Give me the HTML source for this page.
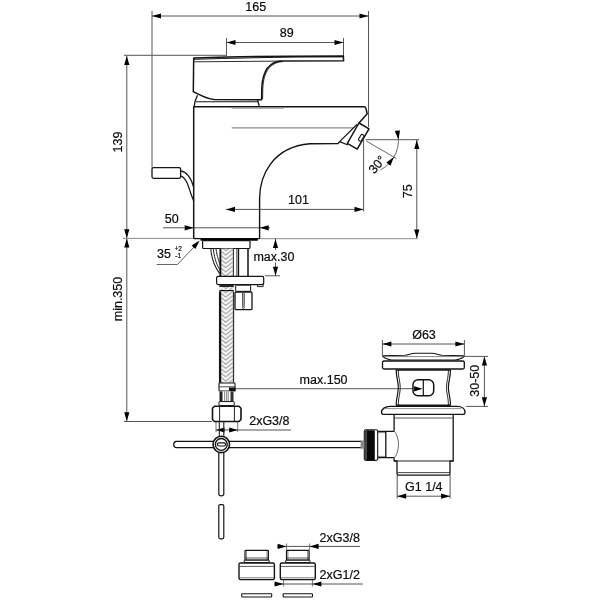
<!DOCTYPE html>
<html><head><meta charset="utf-8"><title>Technical drawing</title>
<style>
html,body{margin:0;padding:0;background:#fff;}
body{width:600px;height:600px;overflow:hidden;}
svg{display:block;will-change:transform;}
text{font-family:"Liberation Sans",Arial,sans-serif;fill:#0c0c0c;stroke:#0c0c0c;stroke-width:0.2px;}
</style></head><body>
<svg width="600" height="600" viewBox="0 0 600 600">
<rect width="600" height="600" fill="#fff"/>
<line x1="152" y1="11" x2="152" y2="167.5" stroke="#555555" stroke-width="1.0" />
<line x1="368.5" y1="11" x2="368.5" y2="127" stroke="#555555" stroke-width="1.0" />
<line x1="152" y1="16" x2="368.5" y2="16" stroke="#555555" stroke-width="1.0" />
<polygon points="152.00,16.00 161.00,13.40 161.00,18.60" fill="#000"/>
<polygon points="368.50,16.00 359.50,18.60 359.50,13.40" fill="#000"/>
<text x="255.8" y="10.5" font-size="12.5" text-anchor="middle" >165</text>
<line x1="226.5" y1="38" x2="226.5" y2="55.5" stroke="#555555" stroke-width="1.0" />
<line x1="343.5" y1="38" x2="343.5" y2="57" stroke="#555555" stroke-width="1.0" />
<line x1="226.5" y1="42.5" x2="343.5" y2="42.5" stroke="#555555" stroke-width="1.0" />
<polygon points="226.50,42.50 235.50,39.90 235.50,45.10" fill="#000"/>
<polygon points="343.50,42.50 334.50,45.10 334.50,39.90" fill="#000"/>
<text x="286.7" y="37.2" font-size="12.5" text-anchor="middle" >89</text>
<line x1="126.8" y1="56" x2="126.8" y2="421.3" stroke="#555555" stroke-width="1.0" />
<line x1="124" y1="55.3" x2="227" y2="55.3" stroke="#555555" stroke-width="1.0" />
<polygon points="126.80,56.00 129.40,65.00 124.20,65.00" fill="#000"/>
<polygon points="126.80,238.30 124.20,229.30 129.40,229.30" fill="#000"/>
<text x="121.7" y="142" font-size="12.5" text-anchor="middle" transform="rotate(-90 121.7 142)" >139</text>
<polygon points="126.80,238.60 129.40,247.60 124.20,247.60" fill="#000"/>
<polygon points="126.80,421.30 124.20,412.30 129.40,412.30" fill="#000"/>
<line x1="123" y1="238.4" x2="198" y2="238.4" stroke="#8a8a8a" stroke-width="1.0" />
<line x1="124" y1="421.5" x2="212" y2="421.5" stroke="#555555" stroke-width="1.0" />
<text x="121.7" y="299" font-size="12.5" text-anchor="middle" transform="rotate(-90 121.7 299)" >min.350</text>
<line x1="163" y1="227.8" x2="270" y2="227.8" stroke="#555555" stroke-width="1.0" />
<polygon points="193.70,227.80 184.70,230.40 184.70,225.20" fill="#000"/>
<polygon points="259.70,227.80 268.70,225.20 268.70,230.40" fill="#000"/>
<text x="171.7" y="222.6" font-size="12.5" text-anchor="middle" >50</text>
<line x1="226" y1="209.4" x2="363.5" y2="209.4" stroke="#555555" stroke-width="1.0" />
<line x1="363.6" y1="140" x2="363.6" y2="211.5" stroke="#555555" stroke-width="1.0" />
<polygon points="226.00,209.40 235.00,206.80 235.00,212.00" fill="#000"/>
<polygon points="363.50,209.40 354.50,212.00 354.50,206.80" fill="#000"/>
<text x="298.5" y="204.2" font-size="12.5" text-anchor="middle" >101</text>
<line x1="416.8" y1="140" x2="416.8" y2="238.5" stroke="#555555" stroke-width="1.0" />
<line x1="365.5" y1="139.7" x2="419" y2="139.7" stroke="#555555" stroke-width="1.0" />
<line x1="260" y1="238.7" x2="417.5" y2="238.7" stroke="#8a8a8a" stroke-width="1.0" />
<polygon points="416.80,140.00 419.40,149.00 414.20,149.00" fill="#000"/>
<polygon points="416.80,238.50 414.20,229.50 419.40,229.50" fill="#000"/>
<text x="412" y="191.2" font-size="12.5" text-anchor="middle" transform="rotate(-90 412 191.2)" >75</text>
<path d="M397.01,130.06 A34.0,34.0 0 0 1 380.46,170.02" stroke="#6a6a6a" stroke-width="1" fill="none"/>
<line x1="366.4" y1="141.1" x2="396.5" y2="158.6" stroke="#6a6a6a" stroke-width="1.0" />
<polygon points="398.50,139.70 394.82,131.08 399.98,130.45" fill="#000"/>
<polygon points="393.94,157.00 390.45,165.69 386.36,162.49" fill="#000"/>
<text x="377" y="164.6" font-size="12.5" text-anchor="middle" transform="rotate(-50 377 164.6)" dy="4.3">30°</text>
<line x1="275.5" y1="238.7" x2="275.5" y2="250" stroke="#555555" stroke-width="1.0" />
<line x1="275.5" y1="262.5" x2="275.5" y2="275.8" stroke="#555555" stroke-width="1.0" />
<line x1="265" y1="275.8" x2="280" y2="275.8" stroke="#555555" stroke-width="1.0" />
<polygon points="275.50,238.90 278.10,247.90 272.90,247.90" fill="#000"/>
<polygon points="275.50,275.80 272.90,266.80 278.10,266.80" fill="#000"/>
<text x="253.4" y="260.5" font-size="12.5" text-anchor="start" >max.30</text>
<text x="157" y="258.4" font-size="12.5" text-anchor="start" >35</text>
<text x="174.5" y="251.4" font-size="6.5" text-anchor="start" stroke="none" fill="#333">+2</text>
<text x="175.3" y="258.4" font-size="6.5" text-anchor="start" stroke="none" fill="#333">-1</text>
<path d="M156.7,264.5 L177.5,264.5 L197.5,243.2" stroke="#555" stroke-width="0.9" fill="none" />
<polygon points="199.60,240.60 195.36,248.96 191.56,245.41" fill="#000"/>
<line x1="235.5" y1="388.6" x2="422" y2="388.6" stroke="#777" stroke-width="1.1" />
<polygon points="422.60,388.80 414.10,391.40 414.10,386.20" fill="#000"/>
<text x="299.6" y="383.8" font-size="12.5" text-anchor="start" >max.150</text>
<line x1="216" y1="422" x2="216" y2="432" stroke="#555555" stroke-width="0.8" />
<line x1="237.7" y1="422" x2="237.7" y2="432" stroke="#555555" stroke-width="0.8" />
<line x1="216" y1="430" x2="291" y2="430" stroke="#555555" stroke-width="1.0" />
<polygon points="216.00,430.00 224.50,427.40 224.50,432.60" fill="#000"/>
<polygon points="237.70,430.00 229.20,432.60 229.20,427.40" fill="#000"/>
<text x="249.2" y="425.2" font-size="12.5" text-anchor="start" >2xG3/8</text>
<line x1="382.4" y1="340" x2="382.4" y2="355" stroke="#555555" stroke-width="1.0" />
<line x1="464.4" y1="340" x2="464.4" y2="355" stroke="#555555" stroke-width="1.0" />
<line x1="382.4" y1="344" x2="464.4" y2="344" stroke="#555555" stroke-width="1.0" />
<polygon points="382.40,344.00 391.40,341.40 391.40,346.60" fill="#000"/>
<polygon points="464.40,344.00 455.40,346.60 455.40,341.40" fill="#000"/>
<text x="424" y="338.5" font-size="12.5" text-anchor="middle" >Ø63</text>
<line x1="484.4" y1="356.4" x2="484.4" y2="406" stroke="#555555" stroke-width="1.0" />
<line x1="464" y1="356.4" x2="488" y2="356.4" stroke="#555555" stroke-width="1.0" />
<line x1="466" y1="406.4" x2="488" y2="406.4" stroke="#555555" stroke-width="1.0" />
<polygon points="484.40,356.40 487.00,365.40 481.80,365.40" fill="#000"/>
<polygon points="484.40,406.20 481.80,397.20 487.00,397.20" fill="#000"/>
<text x="479.4" y="380.7" font-size="12.5" text-anchor="middle" transform="rotate(-90 479.4 380.7)" >30-50</text>
<line x1="397.2" y1="475" x2="397.2" y2="498.5" stroke="#555555" stroke-width="1.0" />
<line x1="450.1" y1="475" x2="450.1" y2="498.5" stroke="#555555" stroke-width="1.0" />
<line x1="397.2" y1="496.2" x2="450.1" y2="496.2" stroke="#555555" stroke-width="1.0" />
<polygon points="397.20,496.20 406.20,493.60 406.20,498.80" fill="#000"/>
<polygon points="450.10,496.20 441.10,498.80 441.10,493.60" fill="#000"/>
<text x="423.8" y="491" font-size="12.5" text-anchor="middle" >G1 1/4</text>
<line x1="286.6" y1="543.5" x2="286.6" y2="550" stroke="#555555" stroke-width="0.8" />
<line x1="309.6" y1="543.5" x2="309.6" y2="550" stroke="#555555" stroke-width="0.8" />
<line x1="277" y1="546.4" x2="360" y2="546.4" stroke="#555555" stroke-width="1.0" />
<polygon points="286.60,546.40 277.60,549.00 277.60,543.80" fill="#000"/>
<polygon points="309.60,546.40 318.60,543.80 318.60,549.00" fill="#000"/>
<text x="319.6" y="542" font-size="12.5" text-anchor="start" >2xG3/8</text>
<line x1="283.6" y1="580" x2="283.6" y2="586.5" stroke="#555555" stroke-width="0.8" />
<line x1="312.4" y1="580" x2="312.4" y2="586.5" stroke="#555555" stroke-width="0.8" />
<line x1="274" y1="584" x2="363" y2="584" stroke="#555555" stroke-width="1.0" />
<polygon points="283.60,584.00 274.60,586.60 274.60,581.40" fill="#000"/>
<polygon points="312.40,584.00 321.40,581.40 321.40,586.60" fill="#000"/>
<text x="319.6" y="579.2" font-size="12.5" text-anchor="start" >2xG1/2</text>
<path d="M193.7,58 Q250,56.3 290,56.2 L343.4,56.1 L343.6,60.7 L282,61.1 C268.5,61.6 262.6,72 261.8,88 L261.6,99.7 L214,99.5 C205,98.6 199,94.2 193.3,91.7 Z" stroke="#141414" stroke-width="1.5" fill="none" stroke-linejoin="round"/>
<path d="M193.9,59.3 Q250,57.6 300,57 L343.4,56.9" stroke="#141414" stroke-width="1.0" fill="none" />
<path d="M194.3,61.8 L282,61.1" stroke="#141414" stroke-width="0.9" fill="none" />
<path d="M283,61.6 C270,62.2 263.6,72 262.8,88 L262.6,99" stroke="#141414" stroke-width="0.9" fill="none" />
<path d="M197.5,95.3 C195.6,99 194.6,102 194.2,106.2" stroke="#141414" stroke-width="1.3" fill="none" />
<path d="M196,101.7 L257.7,101.7" stroke="#141414" stroke-width="1.1" fill="none" />
<path d="M257.6,100 L259.2,106.2" stroke="#141414" stroke-width="1.3" fill="none" />
<path d="M193.7,238.6 L193.7,106.7 L364.2,106.8 C365.2,106.9 365.6,107.4 365.9,108.4 L367.2,113.8 L359,123" stroke="#141414" stroke-width="1.5" fill="none" stroke-linejoin="round"/>
<path d="M259.6,238.6 L259.6,198 C259.8,176 272,147 310,143.8 L338,143.6 L339.6,141.6" stroke="#141414" stroke-width="1.4" fill="none" />
<path d="M231.7,108.3 L284,108.3" stroke="#999" stroke-width="0.9" fill="none" />
<path d="M231.7,127.9 L353,127.9" stroke="#8a8a8a" stroke-width="1.2" fill="none" />
<path d="M193.7,238.6 L259.7,238.6" stroke="#141414" stroke-width="1.4" fill="none" />
<path d="M200.5,239.6 L257.8,239.6" stroke="#000" stroke-width="2.4" fill="none" />
<path d="M359,123 L369,128.8 L357.2,149.1 L347.3,143.4 Z" stroke="#141414" stroke-width="1.5" fill="none" stroke-linejoin="round"/>
<path d="M357.2,124.2 L339.6,141.6 L348,145" stroke="#141414" stroke-width="1.2" fill="none" stroke-linejoin="round"/>
<rect x="-3.5" y="-1.6" width="7" height="3.2" rx="1.1" transform="translate(361.2,137.8) rotate(-60)" stroke="#141414" stroke-width="1.1" fill="#fff"/>
<rect x="152" y="167.6" width="28.60" height="10.70" rx="1.5" stroke="#141414" stroke-width="1.3" fill="none" />
<path d="M180.6,170.8 C187,171.8 191,177.5 193.6,187" stroke="#141414" stroke-width="1.2" fill="none" />
<path d="M180.6,175.8 C185,176.8 187,181.5 189,188 S192,197 193.7,201" stroke="#141414" stroke-width="1.2" fill="none" />
<defs><pattern id="braid" x="220.3" y="248" width="13.2" height="4.2" patternUnits="userSpaceOnUse">
<rect width="13.2" height="4.2" fill="#f6f6f6"/>
<path d="M1.2,-0.6 L5.4,2.8 L12.6,-2.8 M1.2,3.6 L5.4,7 L12.6,1.4 M1.2,-4.8 L5.4,-1.4 L12.6,-7 M5.4,11.2 L12.6,5.6" stroke="#8c8c8c" stroke-width="0.9" fill="none"/>
</pattern></defs>
<rect x="202.6" y="240.6" width="47.40" height="7.90" rx="1" stroke="#141414" stroke-width="1.2" fill="#fff" />
<path d="M210.8,249 C212,262 216,268 219.6,273.5" stroke="#222" stroke-width="1.1" fill="none" />
<path d="M213.3,249 C214.5,260 217.5,266 220,270" stroke="#222" stroke-width="1.0" fill="none" />
<path d="M216,249 C217,256 219,262 220.3,265" stroke="#222" stroke-width="1.0" fill="none" />
<rect x="220.3" y="248.6" width="13.2" height="28" fill="url(#braid)"/>
<line x1="220.4" y1="248.6" x2="220.4" y2="276.5" stroke="#111" stroke-width="1.9" />
<line x1="233.4" y1="248.6" x2="233.4" y2="276.5" stroke="#333" stroke-width="1.1" />
<line x1="236.6" y1="248.6" x2="236.6" y2="276.5" stroke="#555" stroke-width="0.8" />
<line x1="238.4" y1="248.6" x2="238.4" y2="276.5" stroke="#111" stroke-width="1.5" />
<line x1="248" y1="248.6" x2="248" y2="276.5" stroke="#111" stroke-width="1.5" />
<rect x="216.6" y="276.4" width="47.10" height="8.20" rx="1.5" stroke="#141414" stroke-width="1.2" fill="#fff" />
<path d="M257.5,284.6 L257.5,286.6 L263.2,286.6 L263.2,283" stroke="#141414" stroke-width="0.9" fill="none" />
<rect x="219.4" y="285" width="14.4" height="6.4" fill="url(#braid)"/>
<line x1="219.4" y1="286" x2="233.8" y2="286" stroke="#111" stroke-width="1.8" />
<line x1="219.4" y1="290.7" x2="233.8" y2="290.7" stroke="#111" stroke-width="1.4" />
<rect x="235.7" y="285.2" width="14.90" height="6.10" rx="0.5" stroke="#141414" stroke-width="1.0" fill="#fff" />
<rect x="235" y="292" width="17.00" height="17.60" rx="1.2" stroke="#141414" stroke-width="1.3" fill="#fff" />
<line x1="242.7" y1="293" x2="242.7" y2="306.5" stroke="#222" stroke-width="0.9" />
<line x1="244.2" y1="293" x2="244.2" y2="306.5" stroke="#222" stroke-width="0.9" />
<circle cx="243.4" cy="307.6" r="1" fill="#fff" stroke="#222" stroke-width="0.8"/>
<rect x="220.3" y="291.4" width="13.2" height="91.4" fill="url(#braid)"/>
<line x1="220.1" y1="291.4" x2="220.1" y2="382.8" stroke="#111" stroke-width="2.3" />
<line x1="233.5" y1="291.4" x2="233.5" y2="382.8" stroke="#333" stroke-width="1.3" />
<rect x="219" y="383" width="16.00" height="8.00" rx="0.5" stroke="#141414" stroke-width="1.1" fill="#fff" />
<line x1="219" y1="386.8" x2="235" y2="386.8" stroke="#333" stroke-width="0.9" />
<rect x="229" y="387.5" width="6.5" height="3.6" fill="#111"/>
<rect x="219.5" y="391.4" width="14" height="10.2" fill="#fff"/>
<rect x="219.5" y="391.4" width="3" height="10.2" fill="#222"/>
<rect x="230.5" y="391.4" width="3" height="10.2" fill="#333"/>
<line x1="224.6" y1="391.4" x2="224.6" y2="401.6" stroke="#666" stroke-width="0.8" />
<line x1="226.6" y1="391.4" x2="226.6" y2="401.6" stroke="#666" stroke-width="0.8" />
<line x1="228.2" y1="391.4" x2="228.2" y2="401.6" stroke="#666" stroke-width="0.8" />
<rect x="219" y="401.6" width="15.20" height="4.00" rx="0.5" stroke="#141414" stroke-width="1.0" fill="#fff" />
<path d="M214.5,406.2 L239,406.2 L241,408.2 L241,419.5 L239,421.5 L214.5,421.5 L212.5,419.5 L212.5,408.2 Z" stroke="#141414" stroke-width="1.6" fill="#fff" stroke-linejoin="round"/>
<line x1="219.6" y1="406.5" x2="219.6" y2="421.3" stroke="#222" stroke-width="1.0" />
<line x1="234.4" y1="406.5" x2="234.4" y2="421.3" stroke="#222" stroke-width="1.0" />
<line x1="219.3" y1="421.6" x2="219.3" y2="437" stroke="#222" stroke-width="1.1" />
<line x1="223.8" y1="421.6" x2="223.8" y2="437" stroke="#222" stroke-width="1.1" />
<path d="M362.5,441.4 L176.5,441.4 C172.8,441.4 172.8,447.7 176.5,447.7 L362.5,447.7" stroke="#141414" stroke-width="1.2" fill="#fff" />
<path d="M218.8,450 L218.8,494 C218.8,496.4 223.8,496.4 223.8,494 L223.8,450" stroke="#141414" stroke-width="1.2" fill="#fff" />
<rect x="218.8" y="504.6" width="5.00" height="34.20" rx="1.5" stroke="#141414" stroke-width="1.2" fill="#fff" />
<circle cx="221.3" cy="444.4" r="8.2" fill="#fff" stroke="#111" stroke-width="1.6"/>
<circle cx="221.3" cy="444.4" r="5.9" fill="#fff" stroke="#111" stroke-width="1.3"/>
<rect x="217.4" y="442.9" width="8.20" height="3.10" rx="1.5" stroke="#141414" stroke-width="1.2" fill="#fff" />
<path d="M382.5,355.8 L405,355.3 C409,355 411,353.3 415,353.3 L431.7,353.3 C436,353.3 438,355 442,355.3 L464.4,355.8 C464.4,357.5 458,360 455,360 L391.7,360 C389,360 382.5,357.5 382.5,355.8 Z" stroke="#141414" stroke-width="1.1" fill="#fff" stroke-linejoin="round"/>
<path d="M382.5,356.6 L464.4,356.6" stroke="#555" stroke-width="0.7" fill="none" />
<rect x="382.5" y="361" width="81.80" height="8.00" rx="1.5" stroke="#141414" stroke-width="1.3" fill="#fff" />
<path d="M396,370 L450.6,370" stroke="#141414" stroke-width="1.6" fill="none" />
<path d="M396,405.3 L450.6,405.3" stroke="#141414" stroke-width="1.6" fill="none" />
<path d="M396.2,370 C396.2,378 398.3,381 398.3,387.5 C398.3,394 396.2,397 396.2,405.3" stroke="#141414" stroke-width="1.2" fill="none" />
<path d="M398.3,370 C398.3,378 400.2,381 400.2,387.5 C400.2,394 398.3,397 398.3,405.3" stroke="#222" stroke-width="1.0" fill="none" />
<path d="M450.5,370 C450.5,378 448.4,381 448.4,387.5 C448.4,394 450.5,397 450.5,405.3" stroke="#141414" stroke-width="1.2" fill="none" />
<path d="M448.4,370 C448.4,378 446.5,381 446.5,387.5 C446.5,394 448.4,397 448.4,405.3" stroke="#222" stroke-width="1.0" fill="none" />
<rect x="413" y="379.8" width="20.70" height="16.00" rx="5" stroke="#141414" stroke-width="1.5" fill="#fff" />
<line x1="423.3" y1="379.8" x2="423.3" y2="395.8" stroke="#111" stroke-width="1.2" />
<polygon points="422.60,388.80 414.10,391.40 414.10,386.20" fill="#000"/>
<path d="M390,406.4 L457,406.4 C462,406.4 465,409 465,412.3 C465,413.6 464.5,414.3 463.3,414.3 L383.2,414.3 C382,414.3 381.5,413.6 381.5,412.3 C381.5,409 385,406.4 390,406.4 Z" stroke="#141414" stroke-width="1.3" fill="#fff" />
<path d="M385,408.6 L461.5,408.6" stroke="#666" stroke-width="0.7" fill="none" />
<path d="M394.1,414.3 L394.1,430.8 M394.1,458.2 L394.1,461 L397,461 L397,473.5 C397,474.6 397.6,475.2 398.6,475.2 L448.4,475.2 C449.4,475.2 450,474.6 450,473.5 L450,461 L453.2,461 L453.2,414.3" stroke="#141414" stroke-width="1.3" fill="none" stroke-linejoin="round"/>
<path d="M394.6,418 L452.8,418" stroke="#444" stroke-width="0.9" fill="none" />
<path d="M397,472.6 L450,472.6" stroke="#333" stroke-width="0.9" fill="none" />
<path d="M394.1,461 L453.2,461" stroke="#222" stroke-width="1.0" fill="none" />
<path d="M394.1,431.3 L377.8,431.3 M394.1,457.7 L377.8,457.7" stroke="#141414" stroke-width="1.2" fill="none" />
<path d="M378,432.6 L385.8,432.6 M378,456.4 L385.8,456.4" stroke="#555" stroke-width="0.7" fill="none" />
<line x1="385.8" y1="431.3" x2="385.8" y2="457.7" stroke="#111" stroke-width="1.3" />
<path d="M394.1,430.8 C400,438 400,451 394.1,458.2" stroke="#444" stroke-width="0.8" fill="none" />
<rect x="364.3" y="429.7" width="13.40" height="30.70" rx="1.6" stroke="#141414" stroke-width="1.1" fill="#fff" />
<rect x="365.2" y="430.2" width="9.6" height="29.7" rx="1" fill="#0a0a0a"/>
<line x1="366.4" y1="431" x2="366.4" y2="459.6" stroke="#888" stroke-width="0.6" />
<rect x="360.6" y="440.6" width="3.8" height="8" fill="#888"/>
<rect x="245.0" y="550.4" width="23.40" height="9.80" rx="0.8" stroke="#141414" stroke-width="1.2" fill="#fff" />
<line x1="246.4" y1="551" x2="246.4" y2="560" stroke="#444" stroke-width="0.7" />
<line x1="267.0" y1="551" x2="267.0" y2="560" stroke="#444" stroke-width="0.7" />
<line x1="245.0" y1="558" x2="268.4" y2="558" stroke="#333" stroke-width="0.8" />
<rect x="244.2" y="560.2" width="25.00" height="2.40" rx="0.3" stroke="#141414" stroke-width="1.0" fill="#fff" />
<rect x="239.0" y="563" width="35.40" height="16.60" rx="1.6" stroke="#141414" stroke-width="1.4" fill="#fff" />
<line x1="239.5" y1="566.4" x2="273.9" y2="566.4" stroke="#333" stroke-width="0.8" />
<line x1="239.8" y1="577.8" x2="273.59999999999997" y2="577.8" stroke="#444" stroke-width="0.7" />
<rect x="241.7" y="593.7" width="30.00" height="3.30" rx="0.8" stroke="#141414" stroke-width="1.1" fill="#fff" />
<rect x="286.5" y="550.4" width="22.60" height="9.80" rx="0.8" stroke="#141414" stroke-width="1.2" fill="#fff" />
<line x1="287.9" y1="551" x2="287.9" y2="560" stroke="#444" stroke-width="0.7" />
<line x1="307.70000000000005" y1="551" x2="307.70000000000005" y2="560" stroke="#444" stroke-width="0.7" />
<line x1="286.5" y1="558" x2="309.1" y2="558" stroke="#333" stroke-width="0.8" />
<rect x="285.7" y="560.2" width="24.20" height="2.40" rx="0.3" stroke="#141414" stroke-width="1.0" fill="#fff" />
<rect x="280.3" y="563" width="35.00" height="16.60" rx="1.6" stroke="#141414" stroke-width="1.4" fill="#fff" />
<line x1="280.8" y1="566.4" x2="314.8" y2="566.4" stroke="#333" stroke-width="0.8" />
<line x1="281.1" y1="577.8" x2="314.5" y2="577.8" stroke="#444" stroke-width="0.7" />
<rect x="283.1" y="593.7" width="29.40" height="3.30" rx="0.8" stroke="#141414" stroke-width="1.1" fill="#fff" />
</svg>
</body></html>
